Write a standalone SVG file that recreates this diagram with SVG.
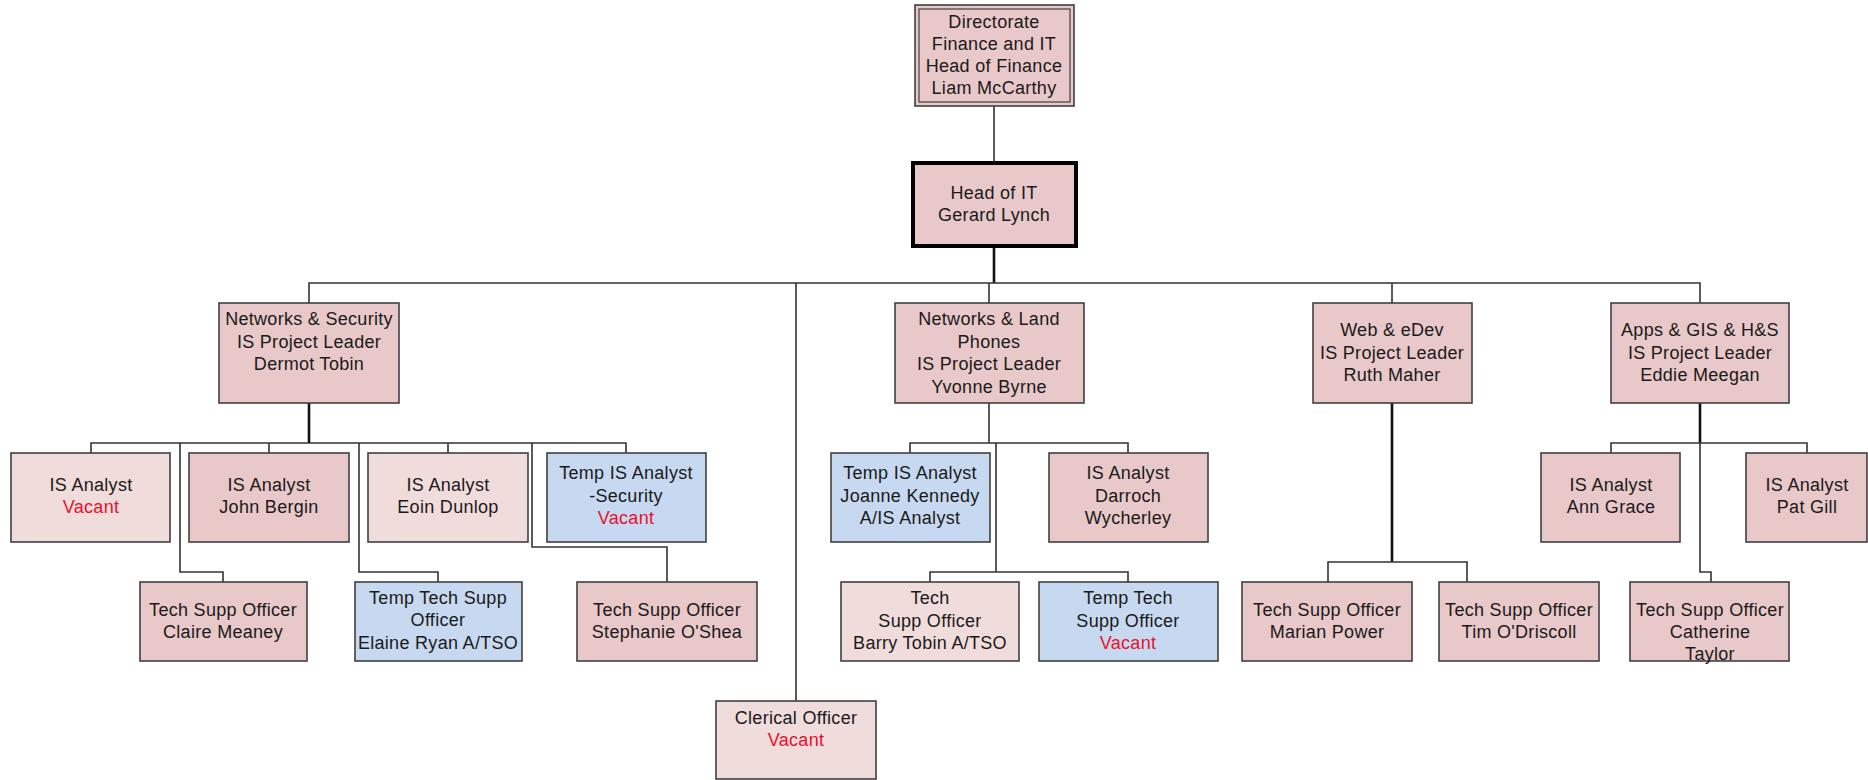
<svg xmlns="http://www.w3.org/2000/svg" width="1868" height="780" viewBox="0 0 1868 780">
<style>
.box{stroke:#404040;stroke-width:1.6}
.pk{fill:#e8c8c8}
.lp{fill:#f1dcdc}
.bl{fill:#c6d9f0}
text{font-family:"Liberation Sans",Arial,sans-serif;font-size:18px;letter-spacing:0.3px;fill:#1a1a1a;text-anchor:middle}
.red{fill:#e8112d}
.ln{fill:none;stroke:#333;stroke-width:1.6}
.thick{fill:none;stroke:#111;stroke-width:2.6}
</style>
<rect width="1868" height="780" fill="#fff"/>
<g id="connectors">
<path class="ln" d="M994 106V163" stroke="#555"/>
<path class="thick" d="M994 246V283"/>
<path class="ln" d="M309 303V283H1700V303M989 283V303M1392 283V303M796 283V701"/>
<path class="thick" d="M309 403V443"/>
<path class="ln" d="M91 453V443H626V453M269 443V453M448 443V453M180 443V572H223V582M359 443V572H438V582M532 443V547H667V582"/>
<path class="ln" d="M989 403V443"/>
<path class="ln" d="M910 453V443H1128V453M996 443V572M930 582V572H1128V582"/>
<path class="thick" d="M1392 403V562"/>
<path class="ln" d="M1328 582V562H1467V582"/>
<path class="thick" d="M1700 403V443"/>
<path class="ln" d="M1611 453V443H1807V453M1700 443V572H1711V582"/>
</g>
<g id="directorate">
<rect class="box pk" x="915" y="5" width="159" height="101"/>
<rect x="919" y="9" width="151" height="93" fill="none" stroke="#404040" stroke-width="1.2"/>
<text x="994" y="28">Directorate</text>
<text x="994" y="50">Finance and IT</text>
<text x="994" y="72">Head of Finance</text>
<text x="994" y="94">Liam McCarthy</text>
</g>
<g id="head-it">
<rect class="pk" x="913" y="163" width="163" height="83" stroke="#000" stroke-width="4"/>
<text x="994" y="199">Head of IT</text>
<text x="994" y="221">Gerard Lynch</text>
</g>
<g id="net-sec">
<rect class="box pk" x="219" y="303" width="180" height="100"/>
<text x="309" y="325">Networks &amp; Security</text>
<text x="309" y="348">IS Project Leader</text>
<text x="309" y="370">Dermot Tobin</text>
</g>
<g id="net-land">
<rect class="box pk" x="895" y="303" width="189" height="100"/>
<text x="989" y="325">Networks &amp; Land</text>
<text x="989" y="348">Phones</text>
<text x="989" y="370">IS Project Leader</text>
<text x="989" y="393">Yvonne Byrne</text>
</g>
<g id="web">
<rect class="box pk" x="1313" y="303" width="159" height="100"/>
<text x="1392" y="336">Web &amp; eDev</text>
<text x="1392" y="359">IS Project Leader</text>
<text x="1392" y="381">Ruth Maher</text>
</g>
<g id="apps">
<rect class="box pk" x="1611" y="303" width="178" height="100"/>
<text x="1700" y="336">Apps &amp; GIS &amp; H&amp;S</text>
<text x="1700" y="359">IS Project Leader</text>
<text x="1700" y="381">Eddie Meegan</text>
</g>
<g id="isa-vacant">
<rect class="box lp" x="11" y="453" width="159" height="89"/>
<text x="91" y="491">IS Analyst</text>
<text x="91" y="513" class="red">Vacant</text>
</g>
<g id="john-bergin">
<rect class="box pk" x="189" y="453" width="160" height="89"/>
<text x="269" y="491">IS Analyst</text>
<text x="269" y="513">John Bergin</text>
</g>
<g id="eoin-dunlop">
<rect class="box lp" x="368" y="453" width="160" height="89"/>
<text x="448" y="491">IS Analyst</text>
<text x="448" y="513">Eoin Dunlop</text>
</g>
<g id="temp-isa-sec">
<rect class="box bl" x="547" y="453" width="159" height="89"/>
<text x="626" y="479">Temp IS Analyst</text>
<text x="626" y="502">-Security</text>
<text x="626" y="524" class="red">Vacant</text>
</g>
<g id="claire-meaney">
<rect class="box pk" x="140" y="582" width="167" height="79"/>
<text x="223" y="616">Tech Supp Officer</text>
<text x="223" y="638">Claire Meaney</text>
</g>
<g id="elaine-ryan">
<rect class="box bl" x="355" y="582" width="167" height="79"/>
<text x="438" y="604">Temp Tech Supp</text>
<text x="438" y="626">Officer</text>
<text x="438" y="649">Elaine Ryan A/TSO</text>
</g>
<g id="stephanie">
<rect class="box pk" x="577" y="582" width="180" height="79"/>
<text x="667" y="616">Tech Supp Officer</text>
<text x="667" y="638">Stephanie O'Shea</text>
</g>
<g id="clerical">
<rect class="box lp" x="716" y="701" width="160" height="78"/>
<text x="796" y="724">Clerical Officer</text>
<text x="796" y="746" class="red">Vacant</text>
</g>
<g id="joanne">
<rect class="box bl" x="831" y="453" width="159" height="89"/>
<text x="910" y="479">Temp IS Analyst</text>
<text x="910" y="502">Joanne Kennedy</text>
<text x="910" y="524">A/IS Analyst</text>
</g>
<g id="darroch">
<rect class="box pk" x="1049" y="453" width="159" height="89"/>
<text x="1128" y="479">IS Analyst</text>
<text x="1128" y="502">Darroch</text>
<text x="1128" y="524">Wycherley</text>
</g>
<g id="barry">
<rect class="box lp" x="841" y="582" width="178" height="79"/>
<text x="930" y="604">Tech</text>
<text x="930" y="627">Supp Officer</text>
<text x="930" y="649">Barry Tobin A/TSO</text>
</g>
<g id="temp-tso-vacant">
<rect class="box bl" x="1039" y="582" width="179" height="79"/>
<text x="1128" y="604">Temp Tech</text>
<text x="1128" y="627">Supp Officer</text>
<text x="1128" y="649" class="red">Vacant</text>
</g>
<g id="marian">
<rect class="box pk" x="1242" y="582" width="170" height="79"/>
<text x="1327" y="616">Tech Supp Officer</text>
<text x="1327" y="638">Marian Power</text>
</g>
<g id="tim">
<rect class="box pk" x="1439" y="582" width="160" height="79"/>
<text x="1519" y="616">Tech Supp Officer</text>
<text x="1519" y="638">Tim O'Driscoll</text>
</g>
<g id="ann">
<rect class="box pk" x="1541" y="453" width="139" height="89"/>
<text x="1611" y="491">IS Analyst</text>
<text x="1611" y="513">Ann Grace</text>
</g>
<g id="pat">
<rect class="box pk" x="1746" y="453" width="121" height="89"/>
<text x="1807" y="491">IS Analyst</text>
<text x="1807" y="513">Pat Gill</text>
</g>
<g id="catherine">
<rect class="box pk" x="1630" y="582" width="159" height="79"/>
<text x="1710" y="616">Tech Supp Officer</text>
<text x="1710" y="638">Catherine</text>
<text x="1710" y="660">Taylor</text>
</g>
</svg>
